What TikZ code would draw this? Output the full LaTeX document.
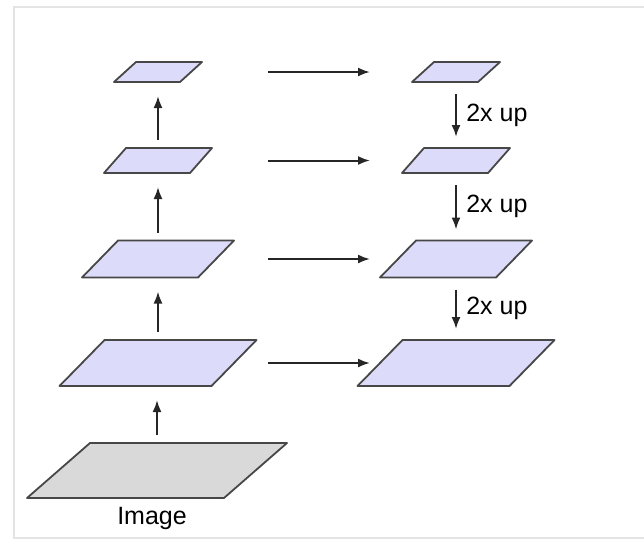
\documentclass[tikz,border=0pt]{standalone}
\usepackage{fontspec}
\setmainfont{Liberation Sans}
\usetikzlibrary{%
    arrows.meta,
    calc,
    positioning
}
\definecolor{layerblue}{RGB}{220,220,250}
\definecolor{imggray}{RGB}{217,217,217}
\definecolor{framegray}{RGB}{228,228,228}
\tikzset{headarrow/.style = {-{Latex[length=12pt,width=9pt]}, line width=2pt, draw=black!85}}
\tikzset{layer/.style = {rectangle, inner sep=0pt, outer sep=0pt}}
\tikzset{layerline/.style = {draw=black!72, line width=1.8pt, line join=round, fill=layerblue}}

\begin{document}
\begin{tikzpicture}[x=1pt, y=-1pt, font=\fontsize{25}{30}\selectfont]
    \useasboundingbox (0,0) rectangle (644,539);
    \draw[framegray, line width=1.5pt] (644,7) -- (14,7) -- (14,538) -- (644,538);

    % pyramid levels: body width, slant offset, height
    \foreach \n/\y/\b/\o/\h in {1/72/66/22/20, 2/160.5/86/22/25, 3/259/116/36/37, 4/363/152/45/46}
        {
        \node[layer, minimum width=\b pt, minimum height=\h pt] (l-\n) at (158,\y) {};
        \node[layer, minimum width=\b pt, minimum height=\h pt] (r-\n) at (456,\y) {};
        \foreach \c in {l-\n, r-\n}
            \draw[layerline] ($(\c.south west)+(-\o/2,0)$) -- ($(\c.south east)+(-\o/2,0)$)
                -- ($(\c.north east)+(\o/2,0)$) -- ($(\c.north west)+(\o/2,0)$) -- cycle;
        }
    \node[layer, minimum width=197pt, minimum height=55pt] (img) at (157,470.5) {};
    \draw[layerline, fill=imggray] ($(img.south west)+(-31.5,0)$) -- ($(img.south east)+(-31.5,0)$)
        -- ($(img.north east)+(31.5,0)$) -- ($(img.north west)+(31.5,0)$) -- cycle;
    \node (img-label) [below=6pt of img, xshift=-5pt] {Image};

    \foreach \Source/\Target in {img/l-4, l-4/l-3, l-3/l-2, l-2/l-1}
        \draw[headarrow, shorten <=8pt, shorten >=14pt] (\Source.north) -- (\Source.north |- \Target.south);

    \coordinate (h-start) at (268,0);
    \coordinate (h-end) at (370,0);
    \foreach \n in {1,...,4}
        \draw[headarrow] (h-start |- l-\n) -- (h-end |- r-\n);

    \foreach \n [evaluate=\n as \m using int(\n+1)] in {1,2,3}
        \draw[headarrow, shorten <=12pt, shorten >=11pt] (r-\n.south) -- (r-\n.south |- r-\m.north)
            node [midway, right=6pt] {2x up};
\end{tikzpicture}
\end{document}
